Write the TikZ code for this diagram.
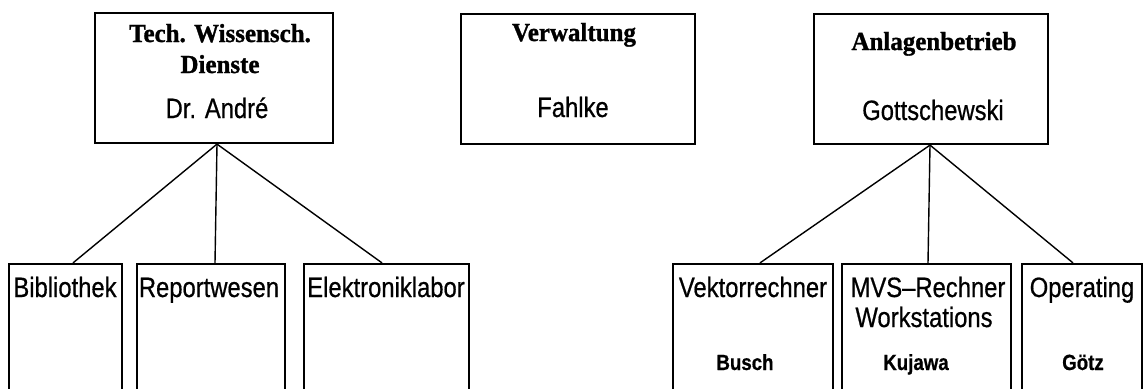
\documentclass[tikz,border=0pt]{standalone}
\usepackage{fontspec}
\setmainfont{Liberation Serif}
\newfontfamily\labfont[FakeStretch=0.85,FakeBold=0.6]{Liberation Sans}
\newfontfamily\titfont[FakeStretch=0.96,FakeBold=1.2]{Liberation Serif}
\begin{document}
\begin{tikzpicture}[x=1pt,y=-1pt,
  box/.style={draw,line width=2.2pt,rectangle,inner sep=0pt,minimum width=#1,minimum height=130pt},
  sub/.style={draw,line width=2.2pt,rectangle,inner sep=0pt,minimum width=#1,minimum height=136pt},
  conn/.style={line width=1.4pt},
  ttl/.style={anchor=base,inner sep=0pt,font=\titfont\bfseries\fontsize{26}{27}\selectfont},
  lbl/.style={anchor=base,inner sep=0pt,font=\labfont\fontsize{28}{29}\selectfont},
  sml/.style={anchor=base,inner sep=0pt,font=\labfont\bfseries\fontsize{22}{23}\selectfont}]
\useasboundingbox (0,0) rectangle (1145,388);
\clip (0,0) rectangle (1145,388);
\fill[white] (0,0) rectangle (1145,388);
% top boxes
\node[box=238pt] (b1) at (214,78) {};
\node[box=234pt] (b2) at (578,79) {};
\node[box=234pt] (b3) at (931,79) {};
% sub boxes
\node[sub=113pt] (bib) at (65.5,332) {};
\node[sub=148pt] (rep) at (211,332) {};
\node[sub=165pt] (ele) at (386.5,332) {};
\node[sub=160pt] (vek) at (753,332) {};
\node[sub=169pt] (mvs) at (926.5,332) {};
\node[sub=120pt] (ope) at (1082,332) {};
% texts
\node[ttl] (t1a) at (220,42) {Tech. Wissensch.};
\node[ttl] (t1b) at (220,73) {Dienste};
\node[lbl] (t1c) at (217,118) {Dr. André};
\node[ttl] (t2a) at (574,41) {Verwaltung};
\node[lbl] (t2b) at (573,117) {Fahlke};
\node[ttl] (t3a) at (934,50) {Anlagenbetrieb};
\node[lbl] (t3b) at (933,120) {Gottschewski};
\node[lbl] (s1) at (65,297) {Bibliothek};
\node[lbl] (s2) at (209,297) {Reportwesen};
\node[lbl] (s3) at (386,297) {Elektroniklabor};
\node[lbl] (s4) at (753,297) {Vektorrechner};
\node[lbl] (s5) at (928,297) {MVS–Rechner};
\node[lbl] (s5b) at (924,327) {Workstations};
\node[lbl] (s6) at (1082,297) {Operating};
\node[sml] (n4) at (745,370) {Busch};
\node[sml] (n5) at (916,370) {Kujawa};
\node[sml] (n6) at (1083,370) {Götz};
% connectors
\draw[conn] ([xshift=3pt]b1.south) -- ([xshift=7.5pt]bib.north);
\draw[conn] ([xshift=3pt]b1.south) -- ([xshift=4pt]rep.north);
\draw[conn] ([xshift=3pt]b1.south) -- ([xshift=-4.5pt]ele.north);
\draw[conn] ([xshift=-1pt]b3.south) -- ([xshift=7pt]vek.north);
\draw[conn] ([xshift=-1pt]b3.south) -- ([xshift=1.5pt]mvs.north);
\draw[conn] ([xshift=-1pt]b3.south) -- ([xshift=-9pt]ope.north);
\end{tikzpicture}
\end{document}
